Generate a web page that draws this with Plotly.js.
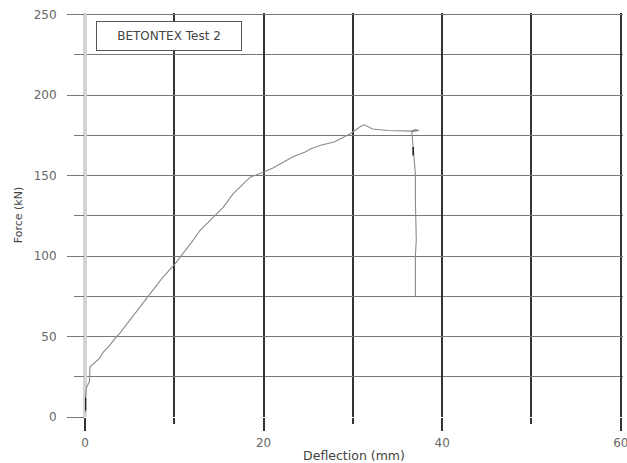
<!DOCTYPE html>
<html>
<head>
<meta charset="utf-8">
<script src="https://cdn.plot.ly/plotly-3.0.1.min.js"></script>
<style>html,body{margin:0;padding:0;background:#fff;}#chart{width:627px;height:463px;}</style>
</head>
<body>
<div id="chart"></div>
<script>
// Deflection (mm) and Force (kN)
const deflection = [0.05, 0.05, 0.15, 0.35, 0.5, 0.55, 0.75, 1.2, 1.65, 2.0, 2.7, 3.35, 3.9, 5.0, 6.2, 7.3, 8.6, 10.1, 11.2, 12.1, 12.9, 14.4, 15.5, 16.6, 17.6, 18.5, 20.0, 21.0, 21.9, 23.4, 24.6, 25.3, 26.4, 27.9, 29.7, 30.9, 31.3, 31.7, 32.2, 33.9, 35.4, 36.5, 37.0, 37.4, 36.6, 36.75, 36.8, 37.0, 37.0, 37.05, 37.1, 37.0, 37.0];
const force = [3, 12, 18, 21, 22, 31, 32, 34, 36.5, 40, 44, 48.7, 52, 60, 68.5, 76.6, 86, 95.3, 103, 109.7, 116, 124.2, 130.4, 138.8, 144.5, 149, 152.2, 154.5, 157.4, 162, 164.5, 166.7, 168.8, 170.8, 176, 180.6, 181.5, 180.3, 178.9, 178, 177.6, 177.6, 178.5, 178, 177.3, 168, 161.5, 151, 134.7, 120, 110, 100, 75];
// darker-drawn short pieces of the same curve
const darkDeflection = [0.05, 0.05, null, 36.75, 36.75];
const darkForce = [4, 12, null, 162.5, 167.7];

const xTickVals = [0, 20, 40, 60];
const yTickVals = [0, 50, 100, 150, 200, 250];
const legendLabel = "BETONTEX Test 2";
const xTitle = "Deflection (mm)";
const yTitle = "Force (kN)";

const fontFam = "DejaVu Sans, Arial, sans-serif";

const traces = [
  {x: deflection, y: force, type: 'scatter', mode: 'lines',
   line: {color: '#8a8a8a', width: 1.1}, hoverinfo: 'skip'},
  {x: darkDeflection, y: darkForce, type: 'scatter', mode: 'lines',
   line: {color: '#222', width: 1.6}, hoverinfo: 'skip', connectgaps: false}
];

const layout = {
  width: 627, height: 463,
  margin: {l: 85, r: 4, t: 13, b: 46, pad: 0},
  paper_bgcolor: '#fff', plot_bgcolor: '#fff',
  showlegend: false,
  font: {family: fontFam, size: 12, color: '#555'},
  xaxis: {
    range: [0, 60.25], tickvals: xTickVals, ticktext: xTickVals.map(String),
    ticks: 'outside', ticklen: 13, tickwidth: 2, tickcolor: '#333',
    showgrid: true, gridcolor: '#333', gridwidth: 2,
    zeroline: true, zerolinecolor: '#d4d4d4', zerolinewidth: 4,
    showline: false,
    minor: {dtick: 10, tick0: 0, ticks: 'outside', ticklen: 6, tickwidth: 2, tickcolor: '#333',
            showgrid: true, gridcolor: '#333', gridwidth: 2},
    tickfont: {family: fontFam, size: 12, color: '#666'},
    ticklabelstandoff: 2, ticklabeloverflow: 'allow',
    title: {text: xTitle, font: {family: fontFam, size: 12.5, color: '#444'}, standoff: 4}
  },
  yaxis: {
    range: [0, 251], tickvals: yTickVals, ticktext: yTickVals.map(String),
    ticks: 'outside', ticklen: 17, tickwidth: 1, tickcolor: '#777',
    showgrid: true, gridcolor: '#777', gridwidth: 1,
    zeroline: false, showline: false,
    minor: {dtick: 25, tick0: 0, ticks: 'outside', ticklen: 10, tickwidth: 1, tickcolor: '#777',
            showgrid: true, gridcolor: '#777', gridwidth: 1},
    tickfont: {family: fontFam, size: 12, color: '#666'},
    ticklabelstandoff: 8,
    title: {text: yTitle, font: {family: fontFam, size: 11, color: '#444'}, standoff: 8}
  },
  annotations: [{
    xref: 'paper', yref: 'paper', x: 0.02, y: 0.98, xanchor: 'left', yanchor: 'top',
    text: legendLabel, showarrow: false,
    font: {family: fontFam, size: 12, color: '#444'},
    bordercolor: '#555', borderwidth: 1, borderpad: 4, bgcolor: '#fff',
    width: 136, height: 20, align: 'center'
  }]
};

Plotly.newPlot('chart', traces, layout, {displayModeBar: false, staticPlot: true});
</script>
</body>
</html>
